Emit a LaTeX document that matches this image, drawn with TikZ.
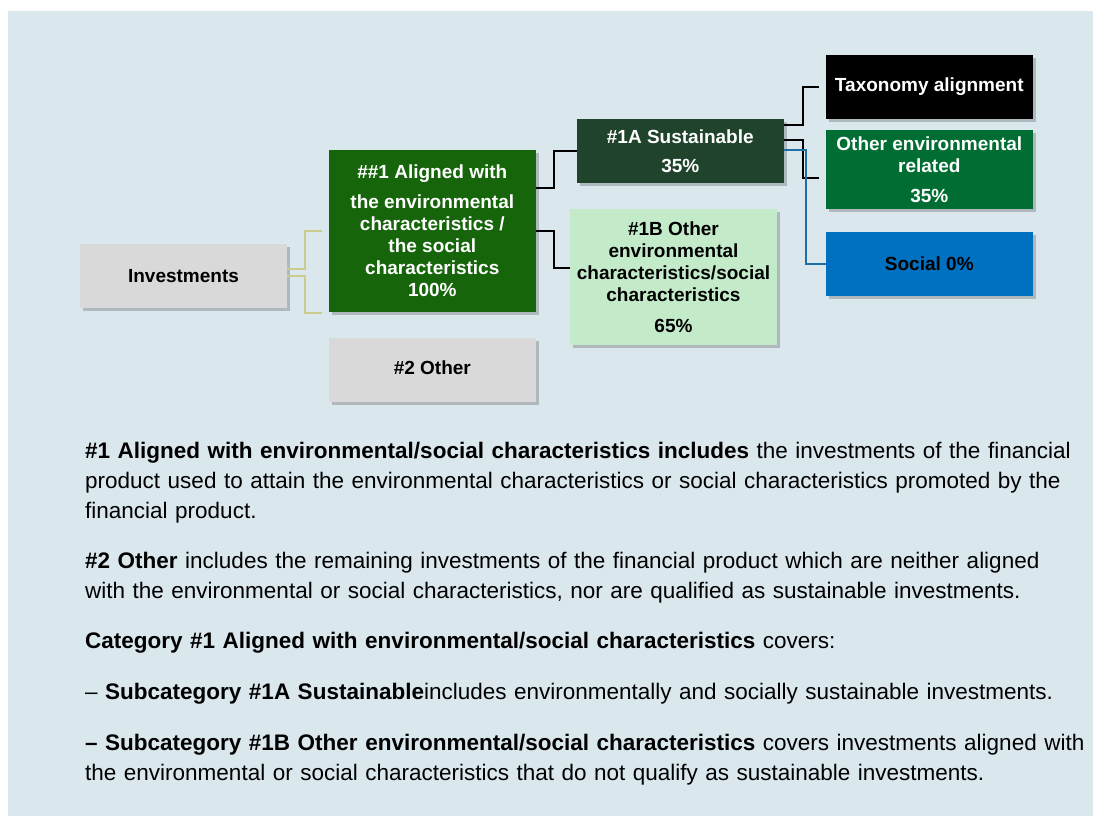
\documentclass[tikz,border=0pt]{standalone}
\usepackage{fontspec}
\setmainfont{Liberation Sans}
\usetikzlibrary{shadows}

\definecolor{panel}{HTML}{DAE8EE}
\definecolor{boxgrey}{HTML}{D9D9D9}
\definecolor{aligngreen}{HTML}{16650A}
\definecolor{sustgreen}{HTML}{20432B}
\definecolor{palegreen}{HTML}{C3EBC9}
\definecolor{envgreen}{HTML}{006E33}
\definecolor{socialblue}{HTML}{0070C0}
\definecolor{olive}{HTML}{CBCB8C}
\definecolor{linkblue}{HTML}{1F6FA5}

\begin{document}
\begin{tikzpicture}[x=1pt,y=-1pt,
  box/.style={minimum width=207pt,minimum height=64pt,inner sep=2pt,align=center,
    font=\bfseries\fontsize{19}{22}\selectfont,
    drop shadow={shadow xshift=3pt,shadow yshift=-3pt,opacity=0.3,fill=black!70}},
  para/.style={anchor=base west,inner sep=0pt,align=left,text width=1000pt,
    font=\fontsize{22.5}{30}\selectfont},
  link/.style={line width=1.5pt}]
  \useasboundingbox (0,0) rectangle (1093,816);
  % background
  \fill[panel] (8,11) rectangle (1093,816);

  % boxes
  \node[box,fill=boxgrey] (inv) at (183.5,276) {Investments};
  \node[box,fill=aligngreen,text=white,minimum height=162pt] (aligned) at (432.3,231)
    {\#\#1 Aligned with\\[8pt]the environmental\\characteristics /\\the social\\characteristics\\100\%};
  \node[box,fill=boxgrey] (other2) at (432.3,370) {\raisebox{4pt}{\#2 Other}};
  \node[box,fill=sustgreen,text=white] (sust) at (680.3,151) {\#1A Sustainable\\[7pt]35\%};
  \node[box,fill=palegreen,minimum height=136pt] (other1b) at (673.5,277)
    {\#1B Other\\environmental\\characteristics/social\\characteristics\\[9pt]65\%};
  \node[box,fill=black,text=white] (taxo) at (929.3,87) {Taxonomy alignment};
  \node[box,fill=envgreen,text=white,minimum height=79pt] (othenv) at (929.3,169.5)
    {Other environmental\\related\\[8pt]35\%};
  \node[box,fill=socialblue] (social) at (929.3,264) {Social 0\%};

  % connectors
  \draw[olive,line width=2pt,shorten >=7pt] ([yshift=7pt]inv.east) -- ++(18,0) |- (aligned.west);
  \draw[olive,line width=2pt,shorten >=7pt] (inv.east) -- ++(18,0) |- ([yshift=-1pt]aligned.south west);
  \draw[link] ([yshift=43pt]aligned.east) -- ++(18,0) |- (sust.west);
  \draw[link] (aligned.east) -- ++(18,0) |- ([yshift=9pt]other1b.west);
  \draw[link,shorten >=7pt] ([yshift=26pt]sust.east) -- ++(19,0) |- (taxo.west);
  \draw[link,shorten >=7pt] ([yshift=11pt]sust.east) -- ++(19,0) |- ([yshift=-8.5pt]othenv.west);
  \draw[link,linkblue] ([yshift=1pt]sust.east) -- ++(22,0) |- (social.west);

  % notes
  \node[para] (note1) at (85,458) {\textbf{\#1 Aligned with environmental/social characteristics includes} the investments of the financial\\
    product used to attain the environmental characteristics or social characteristics promoted by the\\
    financial product.};
  \node[para] (note2) at (85,568) {\textbf{\#2 Other} includes the remaining investments of the financial product which are neither aligned\\
    with the environmental or social characteristics, nor are qualified as sustainable investments.};
  \node[para] (note3) at (85,648) {\textbf{Category \#1 Aligned with environmental/social characteristics} covers:};
  \node[para] (note4) at (85,699) {\textendash{} \textbf{Subcategory \#1A Sustainable}includes environmentally and socially sustainable investments.};
  \node[para] (note5) at (85,750.5) {\textbf{\textendash{} Subcategory \#1B Other environmental/social characteristics} covers investments aligned with\\
    the environmental or social characteristics that do not qualify as sustainable investments.};
\end{tikzpicture}
\end{document}
